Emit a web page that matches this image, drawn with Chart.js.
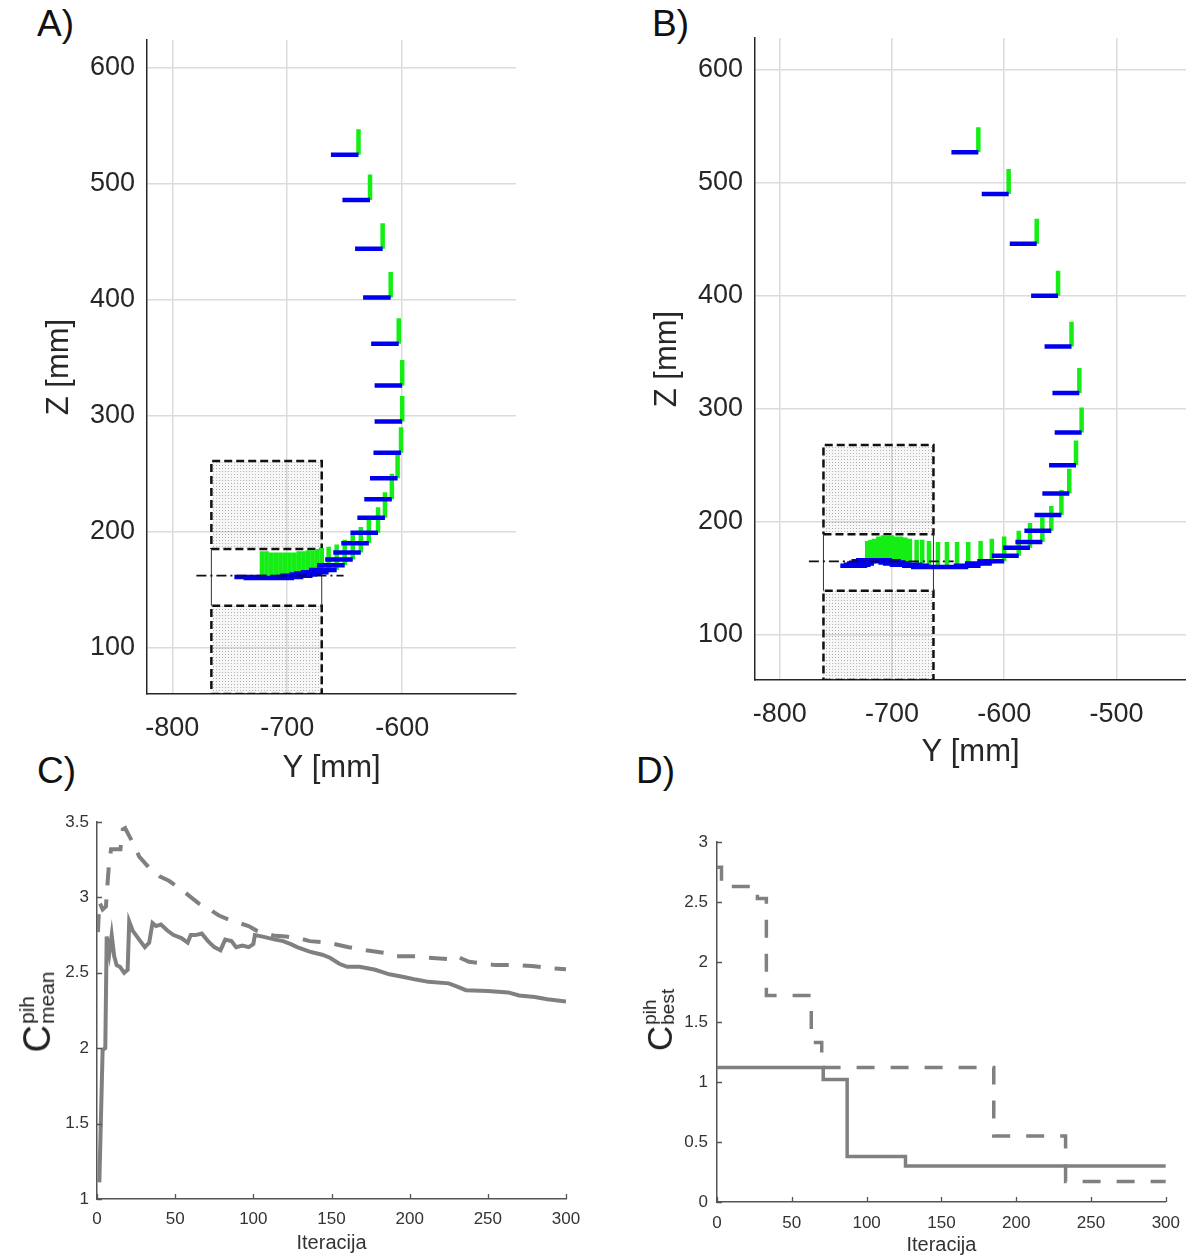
<!DOCTYPE html>
<html>
<head>
<meta charset="utf-8">
<script src="https://cdn.jsdelivr.net/npm/chart.js@4.4.0/dist/chart.umd.min.js"></script>
<style>
body { margin: 0; background: #fff; width: 1186px; height: 1256px; position: relative; overflow: hidden;
  font-family: 'Liberation Sans', Arial, sans-serif; }
canvas { position: absolute; }
.lbl { position: absolute; font-size: 37px; line-height: 1; color: #111; }
.clab { position: absolute; display: flex; align-items: center; white-space: nowrap; color: #222;
  transform: translate(-50%, -50%) rotate(-90deg); }
.clab .big { line-height: 1; }
.clab .ss { display: flex; flex-direction: column; line-height: 0.95; margin-left: 1px; }
</style>
</head>
<body>
<div class="lbl" style="left:37px;top:5px">A)</div>
<div class="lbl" style="left:652px;top:5px">B)</div>
<div class="lbl" style="left:37px;top:752px">C)</div>
<div class="lbl" style="left:636px;top:752px">D)</div>

<canvas id="chartA" width="560" height="800" style="left:0;top:0"></canvas>
<canvas id="chartB" width="606" height="800" style="left:580px;top:0"></canvas>
<canvas id="chartC" width="600" height="516" style="left:0;top:740px"></canvas>
<canvas id="chartD" width="591" height="516" style="left:600px;top:740px"></canvas>

<div class="clab" style="left:37px;top:1012px"><span class="big" style="font-size:38px">C</span><span class="ss" style="font-size:21px"><span>pih</span><span>mean</span></span></div>
<div class="clab" style="left:659px;top:1020px"><span class="big" style="font-size:35px">C</span><span class="ss" style="font-size:19px"><span>pih</span><span>best</span></span></div>

<script>
// ---- A) trajectory: tool frame origins (Y, Z in mm)
var aFrameY = [-638, -628, -617, -610, -603, -600, -600, -601, -604, -609, -615, -621, -629, -636, -643, -650,
  -657, -664, -670, -674, -678, -682, -686, -690, -694, -698, -702, -706, -710, -714, -718, -722];
var aFrameZ = [525, 486, 444, 402, 362, 326, 295, 268, 246, 228, 212, 199, 190, 182, 176, 171,
  167, 165, 164, 163, 162, 162, 161, 161, 160, 160, 160, 160, 160, 160, 161, 161];
var aHoleY = [-766, -670];
var aUpperZ = [185, 261];
var aLowerZ = [60, 136];
var aRefY = [-779, -651];
var aRefZ = 162;

// ---- B) trajectory
var bFrameY = [-623, -596, -571, -552, -540, -533, -531, -536, -542, -549, -558, -566, -577, -587, -600, -611,
  -621, -632, -642, -651, -659, -667, -673, -678, -684, -688, -692, -696, -700, -704, -708, -712, -716, -719, -722];
var bFrameZ = [527, 490, 446, 400, 355, 314, 279, 250, 225, 206, 192, 182, 177, 170, 165, 163,
  161, 160, 160, 160, 160, 161, 162, 162, 163, 164, 165, 165, 166, 166, 166, 165, 163, 162, 161];
var bHoleY = [-761, -663];
var bUpperZ = [189, 268];
var bLowerZ = [60, 139];
var bRefY = [-774, -645];
var bRefZ = 165;

// ---- C) mean cost per iteration
var cIterSolid = [1.5, 3.6, 5.3, 6.2, 7.9, 9.4, 11, 12.6, 14.7, 17.4, 19.6, 20.6, 22.8, 27, 30.6, 33.4,
  35.5, 37.7, 40.9, 45, 49, 54, 58, 60, 63, 67, 71, 75, 79, 82, 86, 89, 93, 97, 100, 101, 106, 110, 114,
  119, 124, 128, 136, 144, 149, 155, 160, 168, 178, 187, 197, 204, 212, 225, 230, 236, 250, 263, 270,
  280, 288, 300];
var cMeanSolid = [1.11, 1.99, 2.00, 2.74, 2.63, 2.75, 2.61, 2.55, 2.54, 2.50, 2.52, 2.84, 2.78, 2.72, 2.67, 2.70,
  2.83, 2.81, 2.82, 2.78, 2.75, 2.73, 2.70, 2.75, 2.75, 2.76, 2.71, 2.67, 2.65, 2.72, 2.71, 2.67, 2.68, 2.67, 2.69, 2.75, 2.74, 2.73, 2.72,
  2.71, 2.69, 2.67, 2.64, 2.62, 2.60, 2.56, 2.54, 2.54, 2.52, 2.49, 2.47, 2.455, 2.44, 2.43, 2.41, 2.385, 2.38, 2.37, 2.35,
  2.34, 2.325, 2.31];
var cIterDashed = [0.6, 1.5, 3.6, 5.7, 7.5, 9, 12, 15, 16.5, 18, 21, 24, 27, 33, 40, 46, 53, 59, 65, 72, 78, 85,
  91, 97, 102, 108, 114, 121, 129, 136, 148, 161, 172, 185, 191, 204, 212, 225, 228, 231, 238, 246, 255,
  268, 278, 291, 300];
var cMeanDashed = [2.77, 2.97, 2.92, 2.94, 3.20, 3.32, 3.32, 3.32, 3.45, 3.46, 3.40, 3.34, 3.27, 3.20, 3.14, 3.11, 3.06, 3.01, 2.96, 2.92, 2.88, 2.85,
  2.83, 2.81, 2.78, 2.76, 2.745, 2.74, 2.73, 2.71, 2.70, 2.67, 2.65, 2.63, 2.61, 2.61, 2.60, 2.59, 2.585, 2.605, 2.573, 2.563, 2.551,
  2.551, 2.545, 2.53, 2.523];

// ---- D) best cost per iteration (value holds until next listed iteration)
var dIterSolid = [0, 71, 87, 126, 300];
var dBestSolid = [1.12, 1.02, 0.38, 0.30, 0.30];
var dIterDashed = [0, 3, 27, 33, 63, 70, 185, 233, 300];
var dBestDashed = [2.79, 2.63, 2.53, 1.72, 1.33, 1.12, 0.55, 0.17, 0.17];

var FONT = "'Liberation Sans', Arial, sans-serif";
var ARM_Y = 24; // blue arm length, mm
var ARM_Z = 22; // green arm length, mm

function pts(xs, ys) {
  var out = [];
  for (var i = 0; i < xs.length; i++) out.push({ x: xs[i], y: ys[i] });
  return out;
}

function frameSegs(ys, zs) {
  var blue = [], green = [];
  for (var i = 0; i < ys.length; i++) {
    blue.push({ x: ys[i] - ARM_Y, y: zs[i] }, { x: ys[i], y: zs[i] }, { x: ys[i], y: null });
    green.push({ x: ys[i], y: zs[i] }, { x: ys[i], y: zs[i] + ARM_Z }, { x: ys[i], y: null });
  }
  return { blue: blue, green: green };
}

function rect(xr, zr) {
  return [{ x: xr[0], y: zr[0] }, { x: xr[1], y: zr[0] }, { x: xr[1], y: zr[1] },
    { x: xr[0], y: zr[1] }, { x: xr[0], y: zr[0] }];
}

function stipple() {
  var c = document.createElement('canvas');
  c.width = 3; c.height = 3;
  var g = c.getContext('2d');
  g.fillStyle = 'rgba(0,0,0,0.03)';
  g.fillRect(0, 0, 3, 3);
  g.fillStyle = 'rgba(0,0,0,0.28)';
  g.fillRect(0, 0, 1, 1);
  return g.createPattern(c, 'repeat');
}

function trajChart(id, d) {
  var f = frameSegs(d.fy, d.fz);
  var walls = [{ x: d.holeY[0], y: d.lowerZ[1] }, { x: d.holeY[0], y: d.upperZ[0] }, { x: d.holeY[0], y: null },
    { x: d.holeY[1], y: d.lowerZ[1] }, { x: d.holeY[1], y: d.upperZ[0] }];
  var pattern = stipple();
  var base = { showLine: true, pointRadius: 0, fill: false, tension: 0 };
  return new Chart(document.getElementById(id), {
    type: 'scatter',
    data: {
      datasets: [
        Object.assign({}, base, { data: [{ x: d.refY[0], y: d.refZ }, { x: d.refY[1], y: d.refZ }],
          borderColor: '#111', borderWidth: 1.8, borderDash: [10, 4, 2, 4] }),
        Object.assign({}, base, { data: f.blue, borderColor: '#0000ee', borderWidth: 4.5 }),
        Object.assign({}, base, { data: f.green, borderColor: '#14ee14', borderWidth: 4.5 }),
        Object.assign({}, base, { data: walls, borderColor: '#333', borderWidth: 1 }),
        Object.assign({}, base, { data: rect(d.holeY, d.upperZ), fill: 'shape', backgroundColor: pattern,
          borderColor: '#111', borderWidth: 2.5, borderDash: [8, 4] }),
        Object.assign({}, base, { data: rect(d.holeY, d.lowerZ), fill: 'shape', backgroundColor: pattern,
          borderColor: '#111', borderWidth: 2.5, borderDash: [8, 4] })
      ]
    },
    options: {
      responsive: false,
      animation: false,
      events: [],
      layout: { padding: d.pad },
      plugins: { legend: { display: false }, tooltip: { enabled: false } },
      scales: {
        x: {
          type: 'linear', min: d.xr[0], max: d.xr[1],
          afterFit: function (s) { s.height = d.xh; },
          ticks: { stepSize: 100, includeBounds: false, autoSkip: false, maxRotation: 0, padding: d.xtp,
            color: '#262626', font: { size: 27, family: FONT } },
          grid: { color: '#dcdcdc', lineWidth: 1.5, drawTicks: false },
          border: { display: true, color: '#262626', width: 1.5 },
          title: { display: true, text: 'Y [mm]', color: '#262626', font: { size: 31, family: FONT, lineHeight: 1 },
            padding: { top: 0, bottom: d.xtb } }
        },
        y: {
          type: 'linear', min: d.yr[0], max: d.yr[1],
          afterFit: function (s) { s.width = d.yw; },
          ticks: { stepSize: 100, includeBounds: false, autoSkip: false, padding: 12,
            color: '#262626', font: { size: 27, family: FONT } },
          grid: { color: '#dcdcdc', lineWidth: 1.5, drawTicks: false },
          border: { display: true, color: '#262626', width: 1.5 },
          title: { display: true, text: 'Z [mm]', color: '#262626', font: { size: 31, family: FONT, lineHeight: 1 },
            padding: { top: d.ytp, bottom: 0 } }
        }
      }
    }
  });
}

trajChart('chartA', { fy: aFrameY, fz: aFrameZ, holeY: aHoleY, upperZ: aUpperZ, lowerZ: aLowerZ,
  refY: aRefY, refZ: aRefZ, xr: [-822, -501], yr: [60, 624],
  pad: { left: 0, top: 40, right: 44, bottom: 0 }, yw: 147, xh: 106, xtp: 18, xtb: 16, ytp: 44 });
trajChart('chartB', { fy: bFrameY, fz: bFrameZ, holeY: bHoleY, upperZ: bUpperZ, lowerZ: bLowerZ,
  refY: bRefY, refZ: bRefZ, xr: [-822, -438], yr: [60, 628],
  pad: { left: 0, top: 38, right: 0, bottom: 0 }, yw: 175, xh: 120, xtp: 18, xtb: 32, ytp: 72 });

// small tick marks pointing into the plot, like the original
var innerTicks = {
  id: 'innerTicks',
  afterDraw: function (chart) {
    var ctx = chart.ctx, sx = chart.scales.x, sy = chart.scales.y, a = chart.chartArea;
    ctx.save();
    ctx.strokeStyle = '#555';
    ctx.lineWidth = 1.3;
    ctx.beginPath();
    sx.ticks.forEach(function (t) {
      var px = Math.round(sx.getPixelForValue(t.value)) + 0.5;
      ctx.moveTo(px, a.bottom);
      ctx.lineTo(px, a.bottom - 5);
    });
    sy.ticks.forEach(function (t) {
      var py = Math.round(sy.getPixelForValue(t.value)) + 0.5;
      ctx.moveTo(a.left, py);
      ctx.lineTo(a.left + 5, py);
    });
    ctx.stroke();
    ctx.restore();
  }
};

function costChart(id, d) {
  return new Chart(document.getElementById(id), {
    type: 'scatter',
    data: {
      datasets: [
        { data: d.solid, showLine: true, pointRadius: 0, borderColor: '#808080', borderWidth: d.lw,
          stepped: d.stepped, tension: 0, fill: false },
        { data: d.dashed, showLine: true, pointRadius: 0, borderColor: '#808080', borderWidth: d.lw,
          borderDash: d.dash, stepped: d.stepped, tension: 0, fill: false }
      ]
    },
    plugins: [innerTicks],
    options: {
      responsive: false,
      animation: false,
      events: [],
      layout: { padding: d.pad, autoPadding: false },
      plugins: { legend: { display: false }, tooltip: { enabled: false } },
      scales: {
        x: {
          type: 'linear', min: 0, max: 300,
          afterFit: function (s) { s.height = d.xh; },
          ticks: { stepSize: 50, autoSkip: false, maxRotation: 0, padding: d.xtp, color: '#333',
            font: { size: 17, family: FONT } },
          grid: { drawOnChartArea: false, drawTicks: false },
          border: { display: true, color: '#555', width: 1.5 },
          title: { display: true, text: 'Iteracija', color: '#333', font: { size: 20, family: FONT, lineHeight: 1 },
            padding: { top: 0, bottom: d.xtb } }
        },
        y: {
          type: 'linear', min: d.yr[0], max: d.yr[1],
          afterFit: function (s) { s.width = d.yw; },
          ticks: { stepSize: 0.5, autoSkip: false, padding: d.ytp, color: '#333', font: { size: 17, family: FONT },
            callback: function (v) { return String(v); } },
          grid: { drawOnChartArea: false, drawTicks: false },
          border: { display: true, color: '#555', width: 1.5 }
        }
      }
    }
  });
}

costChart('chartC', { solid: pts(cIterSolid, cMeanSolid), dashed: pts(cIterDashed, cMeanDashed),
  stepped: false, lw: 4, dash: [18, 14], yr: [1, 3.5],
  pad: { left: 0, top: 82, right: 34, bottom: 0 }, yw: 97, xh: 57, xtp: 10, xtb: 3, ytp: 8 });
costChart('chartD', { solid: pts(dIterSolid, dBestSolid), dashed: pts(dIterDashed, dBestDashed),
  stepped: 'before', lw: 3.5, dash: [18, 16], yr: [0, 3],
  pad: { left: 0, top: 102, right: 21, bottom: 0 }, yw: 117, xh: 54, xtp: 11, xtb: 1, ytp: 9 });
</script>
</body>
</html>
